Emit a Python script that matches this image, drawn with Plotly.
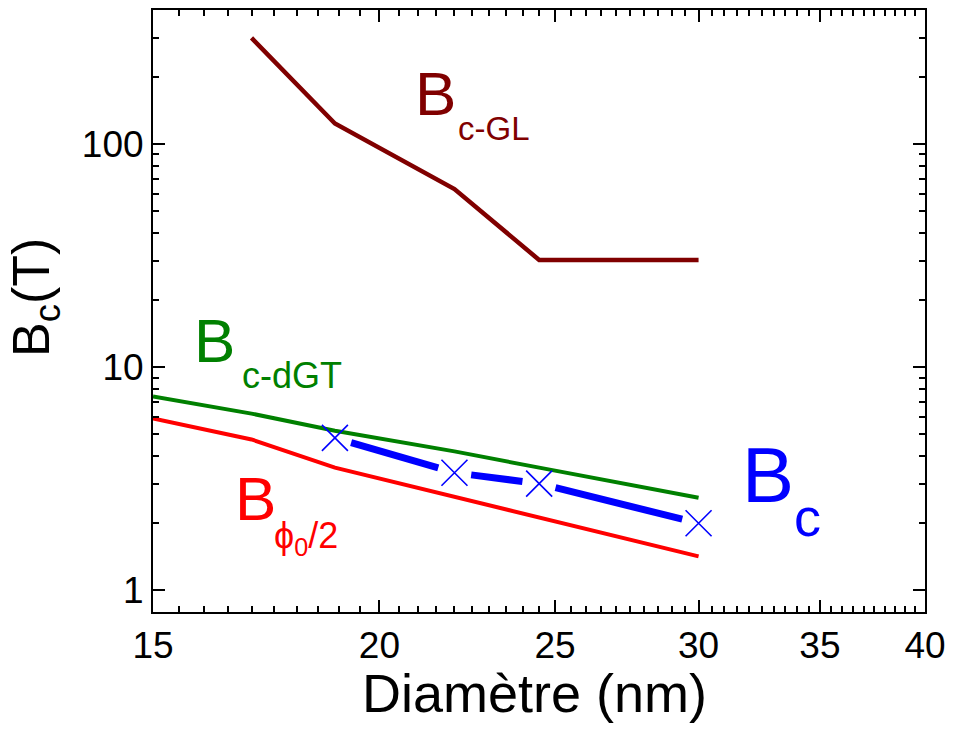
import numpy as np
import plotly.graph_objects as go

# ---------------- data ----------------
diam_gl = [17.0, 18.9, 22.0, 24.5, 30.0]
bc_gl = [300.0, 124.0, 63.0, 30.3, 30.3]

diam_dgt = [15.0, 17.0, 18.9, 22.0, 24.5, 30.0]
bc_dgt = [7.4, 6.2, 5.2, 4.2, 3.55, 2.6]

diam_phi = [15.0, 17.0, 18.9, 22.0, 24.5, 30.0]
bc_phi = [5.9, 4.75, 3.55, 2.63, 2.12, 1.42]

diam_exp = [18.9, 22.0, 24.5, 30.0]
bc_exp = [4.83, 3.37, 3.01, 2.0]

x_ticks = [15, 20, 25, 30, 35, 40]
y_ticks = [1, 10, 100]

# ---------------- layout constants ----------------
W, H = 954, 731
ML, MR, MT, MB = 153, 23, 8, 119
PW, PH = W - ML - MR, H - MT - MB
XR = [np.log10(15), np.log10(40)]
YR = [np.log10(0.8), np.log10(400)]
FONT = "Liberation Sans, Arial, sans-serif"

MAROON, GREEN, RED, BLUE = "#800000", "#008000", "#FF0000", "#0000FF"


def to_px(x, y):
    return np.array([(np.log10(x) - XR[0]) / (XR[1] - XR[0]) * PW,
                     (np.log10(y) - YR[0]) / (YR[1] - YR[0]) * PH])


def from_px(p):
    return (10 ** (XR[0] + p[0] / PW * (XR[1] - XR[0])),
            10 ** (YR[0] + p[1] / PH * (YR[1] - YR[0])))


# line with gaps around the symbols (Origin style)
GAP = 17
seg_x, seg_y = [], []
for i in range(len(diam_exp) - 1):
    p0 = to_px(diam_exp[i], bc_exp[i])
    p1 = to_px(diam_exp[i + 1], bc_exp[i + 1])
    u = (p1 - p0) / np.linalg.norm(p1 - p0)
    a, b = from_px(p0 + u * GAP), from_px(p1 - u * GAP)
    seg_x += [a[0], b[0], None]
    seg_y += [a[1], b[1], None]

fig = go.Figure()
fig.add_trace(go.Scatter(x=diam_gl, y=bc_gl, mode="lines",
                         line=dict(color=MAROON, width=4.5), showlegend=False))
fig.add_trace(go.Scatter(x=diam_dgt, y=bc_dgt, mode="lines",
                         line=dict(color=GREEN, width=4), showlegend=False))
fig.add_trace(go.Scatter(x=diam_phi, y=bc_phi, mode="lines",
                         line=dict(color=RED, width=4), showlegend=False))
fig.add_trace(go.Scatter(x=seg_x, y=seg_y, mode="lines",
                         line=dict(color=BLUE, width=7), showlegend=False))
fig.add_trace(go.Scatter(x=diam_exp, y=bc_exp, mode="markers",
                         marker=dict(symbol="x-thin", size=26,
                                     line=dict(color=BLUE, width=1.6)),
                         showlegend=False))


def ann(text, px, py, size, color, angle=0):
    fig.add_annotation(text=text, xref="paper", yref="paper",
                       x=(px - ML) / PW, y=(H - MB - py) / PH,
                       xanchor="center", yanchor="middle", showarrow=False,
                       textangle=angle,
                       font=dict(family=FONT, size=size, color=color))


# curve labels
ann("B", 438, 92, 62, MAROON)
ann("c-GL", 497, 127, 33, MAROON)
ann("B", 215, 340, 62, GREEN)
ann("c-dGT", 293, 375, 36, GREEN)
ann("B", 256, 498, 62, RED)
ann("ϕ<sub>0</sub>/2", 307, 538, 36, RED)
ann("B", 773, 475, 78, BLUE)
ann("c", 813, 517, 54, BLUE)

# axis titles
ann("B<sub>c</sub>(T)", 34, 296, 52, "black", angle=-90)
ann("Diamètre (nm)", 537, 693, 54, "black")

axis_common = dict(showline=True, linecolor="black", linewidth=2, mirror="ticks",
                   ticks="inside", ticklen=12, tickwidth=2, tickcolor="black",
                   showgrid=False, zeroline=False,
                   tickfont=dict(family=FONT, size=37, color="black"))

fig.update_xaxes(type="log", range=XR, tickmode="array", tickvals=x_ticks,
                 ticktext=[str(v) for v in x_ticks],
                 minor=dict(tickmode="array",
                            tickvals=[v for v in np.arange(15.5, 40, 0.5) if v not in x_ticks],
                            ticks="inside", ticklen=6, tickwidth=1.5, tickcolor="black",
                            showgrid=False),
                 **axis_common)
fig.update_yaxes(type="log", range=YR, tickmode="array", tickvals=y_ticks,
                 ticktext=[str(v) for v in y_ticks],
                 minor=dict(tickmode="array",
                            tickvals=[m * d for d in (1, 10, 100) for m in range(2, 10) if m * d < 400],
                            ticks="inside", ticklen=6, tickwidth=1.5, tickcolor="black",
                            showgrid=False),
                 **axis_common)

fig.update_layout(width=W, height=H, margin=dict(l=ML, r=MR, t=MT, b=MB),
                  paper_bgcolor="white", plot_bgcolor="white",
                  font=dict(family=FONT))

fig.write_html("out.html")
